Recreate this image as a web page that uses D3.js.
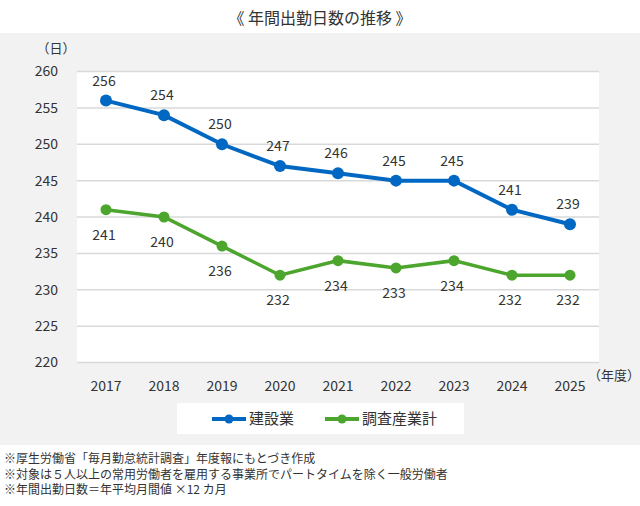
<html>
<head>
    <meta charset="utf-8">
    <title>年間出勤日数の推移</title>
    <script src="https://d3js.org/d3.v7.min.js"></script>
    <style>
        body {
            margin: 0;
            font-family: "Noto Sans CJK JP", "Noto Sans", sans-serif;
            background: white;
        }
        text {
            fill: #333;
        }
    </style>
</head>
<body>
<div id="chart"></div>
<script>
    var years = ["2017", "2018", "2019", "2020", "2021", "2022", "2023", "2024", "2025"];
    var construction = [256, 254, 250, 247, 246, 245, 245, 241, 239];
    var allIndustries = [241, 240, 236, 232, 234, 233, 234, 232, 232];
    var yTicks = [220, 225, 230, 235, 240, 245, 250, 255, 260];
    var seriesNames = ["建設業", "調査産業計"];
    var notes = [
        "※厚生労働省「毎月勤怠統計調査」年度報にもとづき作成",
        "※対象は５人以上の常用労働者を雇用する事業所でパートタイムを除く一般労働者",
        "※年間出勤日数＝年平均月間値 ×12 カ月"
    ];

    var width = 640, height = 506;
    var blue = "#0068c2", green = "#4ca52c";

    var svg = d3.select("#chart")
        .append("svg")
        .attr("width", width)
        .attr("height", height);

    // gray panel
    svg.append("rect")
        .attr("x", 0).attr("y", 33)
        .attr("width", width).attr("height", 412)
        .attr("fill", "#f2f2f2");

    svg.append("text")
        .attr("x", 320).attr("y", 24)
        .attr("text-anchor", "middle")
        .style("font-size", "16px")
        .text("《 年間出勤日数の推移 》");

    var plot = {left: 77, right: 599, top: 71.5, bottom: 362.5};

    svg.append("rect")
        .attr("x", plot.left).attr("y", plot.top)
        .attr("width", plot.right - plot.left)
        .attr("height", plot.bottom - plot.top)
        .attr("fill", "white");

    var x = d3.scaleBand()
        .domain(years)
        .range([plot.left, plot.right]);

    var y = d3.scaleLinear()
        .domain([220, 260])
        .range([plot.bottom, plot.top]);

    // gridlines
    svg.append("g")
        .selectAll("line")
        .data(yTicks)
        .join("line")
        .attr("x1", plot.left)
        .attr("x2", plot.right)
        .attr("y1", function (d) { return y(d); })
        .attr("y2", function (d) { return y(d); })
        .attr("stroke", "#d9d9d9")
        .attr("stroke-width", 1.5);

    // y axis labels
    svg.append("g")
        .selectAll("text")
        .data(yTicks)
        .join("text")
        .attr("x", 58)
        .attr("y", function (d) { return y(d); })
        .attr("dy", "0.35em")
        .attr("text-anchor", "end")
        .style("font-size", "14px")
        .text(function (d) { return d; });

    svg.append("text")
        .attr("x", 56).attr("y", 53)
        .attr("text-anchor", "middle")
        .style("font-size", "13px")
        .text("（日）");

    // x axis labels
    svg.append("g")
        .selectAll("text")
        .data(years)
        .join("text")
        .attr("x", function (d) { return x(d) + x.bandwidth() / 2; })
        .attr("y", 391)
        .attr("text-anchor", "middle")
        .style("font-size", "14px")
        .text(function (d) { return d; });

    svg.append("text")
        .attr("x", 614).attr("y", 380)
        .attr("text-anchor", "middle")
        .style("font-size", "13px")
        .text("（年度）");

    var line = d3.line()
        .x(function (d, i) { return x(years[i]) + x.bandwidth() / 2; })
        .y(function (d) { return y(d); });

    function drawSeries(values, color, labelDy, lw, r) {
        var g = svg.append("g");
        g.append("path")
            .datum(values)
            .attr("d", line)
            .attr("fill", "none")
            .attr("stroke", color)
            .attr("stroke-width", lw);
        g.selectAll("circle")
            .data(values)
            .join("circle")
            .attr("cx", function (d, i) { return x(years[i]) + x.bandwidth() / 2; })
            .attr("cy", function (d) { return y(d); })
            .attr("r", r)
            .attr("fill", color);
        g.selectAll("text")
            .data(values)
            .join("text")
            .attr("x", function (d, i) { return x(years[i]) + x.bandwidth() / 2 - 2; })
            .attr("y", function (d) { return y(d) + labelDy; })
            .attr("dy", "0.35em")
            .attr("text-anchor", "middle")
            .style("font-size", "14px")
            .text(function (d) { return d; });
    }

    drawSeries(construction, blue, -20, 4, 6);
    drawSeries(allIndustries, green, 25, 3.5, 5.5);

    // legend
    svg.append("rect")
        .attr("x", 177).attr("y", 403)
        .attr("width", 287).attr("height", 31)
        .attr("fill", "white");

    var legendItems = [
        {name: seriesNames[0], color: blue, x: 212},
        {name: seriesNames[1], color: green, x: 325}
    ];
    var lg = svg.append("g")
        .selectAll("g")
        .data(legendItems)
        .join("g")
        .attr("transform", function (d) { return "translate(" + d.x + ",419)"; });
    lg.append("line")
        .attr("x1", 0).attr("x2", 34)
        .attr("stroke", function (d) { return d.color; })
        .attr("stroke-width", 4);
    lg.append("circle")
        .attr("cx", 17).attr("r", 4.5)
        .attr("fill", function (d) { return d.color; });
    lg.append("text")
        .attr("x", 37)
        .attr("dy", "0.35em")
        .style("font-size", "15px")
        .text(function (d) { return d.name; });

    // notes
    svg.append("g")
        .selectAll("text")
        .data(notes)
        .join("text")
        .attr("x", 4)
        .attr("y", function (d, i) { return 459 + i * 15.5; })
        .attr("dy", "0.35em")
        .style("font-size", "12px")
        .text(function (d) { return d; });
</script>
</body>
</html>
